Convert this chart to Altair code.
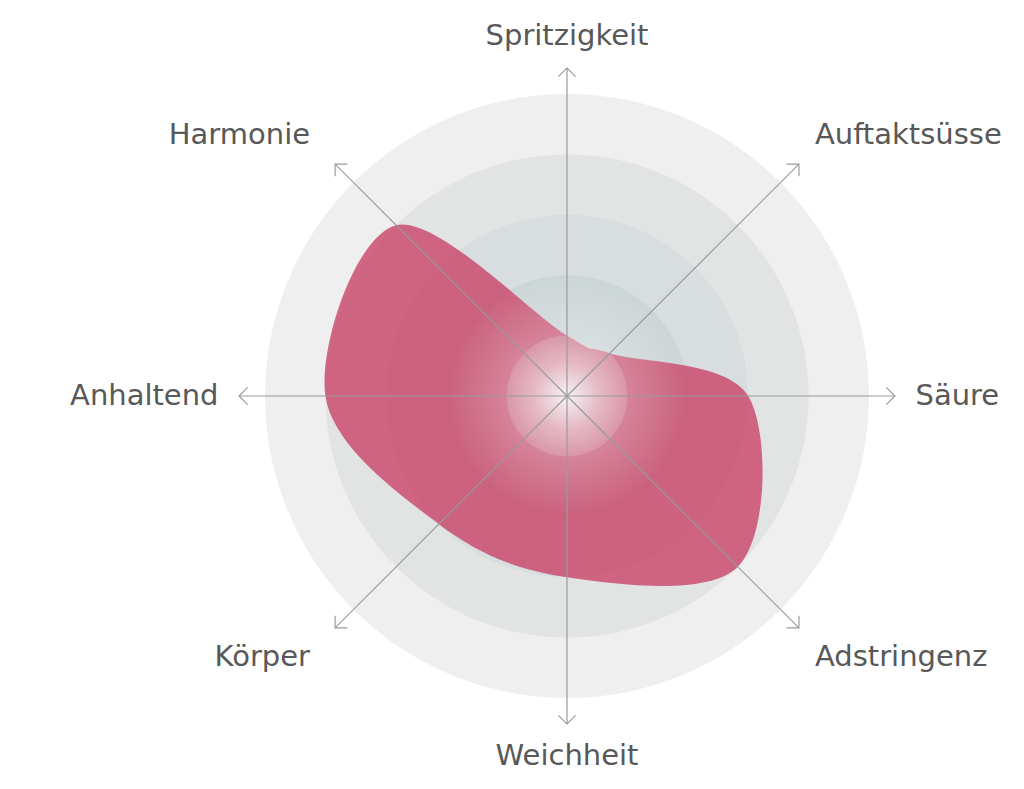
import altair as alt
import pandas as pd
import numpy as np

# ---------------- data ----------------
categories = ["Spritzigkeit", "Auftaktsüsse", "Säure", "Adstringenz",
              "Weichheit", "Körper", "Anhaltend", "Harmonie"]
values = [1, 1, 3, 4, 3, 3, 4, 4]
levels = [5, 4, 3, 2, 1]

# ---------------- style / geometry constants ----------------
ring_colors = ["#efefef", "#e2e4e4", "#d8dde0", "#ccd5d7", "#c6d0d2"]
shape_color = "#c94468"
axis_color = "#9a9a9a"
text_color = "#585858"
FONT = "DejaVu Sans"

UNIT = 60.4          # pixels per value unit
W, H = 1000, 765
CX, CY = 559, 388    # centre of the radar inside the plot area
AXIS_LEN = 5.43
xdom = [-CX / UNIT, (W - CX) / UNIT]
ydom = [-(H - CY) / UNIT, CY / UNIT]

n = len(categories)
ang = np.arange(n) * 2 * np.pi / n      # clockwise from top
s, c = np.sin(ang), np.cos(ang)

shape_df = pd.DataFrame({"idx": np.arange(n), "cat": categories, "value": values})
shape_df["x"] = shape_df["value"] * s
shape_df["y"] = shape_df["value"] * c

# label anchors
lab_r, lab_dx, lab_align = [], [], []
for k in range(n):
    if abs(s[k]) < 1e-6:
        lab_r.append(5.96); lab_dx.append(0); lab_align.append("center")
    elif abs(c[k]) < 1e-6:
        lab_r.append(5.77); lab_dx.append(0)
        lab_align.append("left" if s[k] > 0 else "right")
    else:
        lab_r.append(6.11)
        if s[k] > 0:
            lab_dx.append(-13); lab_align.append("left")
        else:
            lab_dx.append(4); lab_align.append("right")
lab_r = np.array(lab_r)
axis_df = pd.DataFrame({
    "cat": categories,
    "x0": 0.0, "y0": 0.0,
    "xe": AXIS_LEN * s, "ye": AXIS_LEN * c,
    "angle": np.degrees(ang),
    "lx": lab_r * s + np.array(lab_dx) / UNIT,
    "ly": lab_r * c,
    "align": lab_align,
})

rings_df = pd.DataFrame({"level": levels, "cx": 0.0, "cy": 0.0})
glow_df = pd.DataFrame({"g": [1.0], "cx": [0.0], "cy": [0.0]})
halo_df = pd.DataFrame({"g": [2.0], "cx": [0.0], "cy": [0.0]})

xs = alt.Scale(domain=xdom, nice=False, zero=False)
ys = alt.Scale(domain=ydom, nice=False, zero=False)
rs = alt.Scale(type="linear", domain=[0, 5], range=[0, 5 * UNIT], zero=True, nice=False)

X = lambda f: alt.X(f, type="quantitative", scale=xs, axis=None)
Y = lambda f: alt.Y(f, type="quantitative", scale=ys, axis=None)
R = lambda f: alt.Radius(f, type="quantitative", scale=rs, stack=None)

rings = alt.Chart(rings_df).mark_arc(theta=0, theta2=2 * np.pi).encode(
    x=X("cx"), y=Y("cy"),
    radius=R("level"),
    fill=alt.Fill("level:O", scale=alt.Scale(domain=levels, range=ring_colors), legend=None),
)

shape = alt.Chart(shape_df).mark_line(
    interpolate="cardinal-closed", fill=shape_color, fillOpacity=0.8,
    strokeOpacity=0,
).encode(
    x=X("x"), y=Y("y"), order=alt.Order("idx:Q"),
)

halo = alt.Chart(halo_df).mark_arc(
    theta=0, theta2=2 * np.pi,
    fill=alt.Gradient(
        gradient="radial", x1=0.5, y1=0.5, r1=0, x2=0.5, y2=0.5, r2=0.5,
        stops=[alt.GradientStop(color="rgba(255,255,255,0.4)", offset=0),
               alt.GradientStop(color="rgba(255,255,255,0.22)", offset=0.5),
               alt.GradientStop(color="rgba(255,255,255,0)", offset=1)],
    ),
).encode(x=X("cx"), y=Y("cy"), radius=R("g"))

glow = alt.Chart(glow_df).mark_arc(
    theta=0, theta2=2 * np.pi,
    fill=alt.Gradient(
        gradient="radial", x1=0.5, y1=0.5, r1=0, x2=0.5, y2=0.5, r2=0.5,
        stops=[alt.GradientStop(color="rgba(250,250,250,0.9)", offset=0),
               alt.GradientStop(color="rgba(245,245,245,0.4)", offset=0.55),
               alt.GradientStop(color="rgba(240,240,240,0.18)", offset=1)],
    ),
).encode(x=X("cx"), y=Y("cy"), radius=R("g"))

axes = alt.Chart(axis_df).mark_rule(color=axis_color, strokeWidth=1.2).encode(
    x=X("x0"), y=Y("y0"), x2="xe", y2="ye",
)

arrows = alt.Chart(axis_df).mark_point(
    shape="M-1,1L0,0L1,1", filled=False, stroke=axis_color, strokeWidth=1.2,
    size=300, opacity=1,
).encode(
    x=X("xe"), y=Y("ye"), angle=alt.Angle("angle:Q", scale=None),
)

def labels(al):
    return alt.Chart(axis_df).transform_filter(
        alt.datum.align == al
    ).mark_text(
        align=al, baseline="middle", font=FONT, fontSize=29, color=text_color,
    ).encode(x=X("lx"), y=Y("ly"), text="cat:N")

chart = alt.layer(
    rings, shape, halo, glow, axes, arrows,
    labels("left"), labels("right"), labels("center"),
).properties(
    width=W, height=H, autosize=alt.AutoSizeParams(type="none"), padding=0,
).configure_view(stroke=None)

chart.save("out.html", embed_options={"renderer": "svg", "actions": False})
